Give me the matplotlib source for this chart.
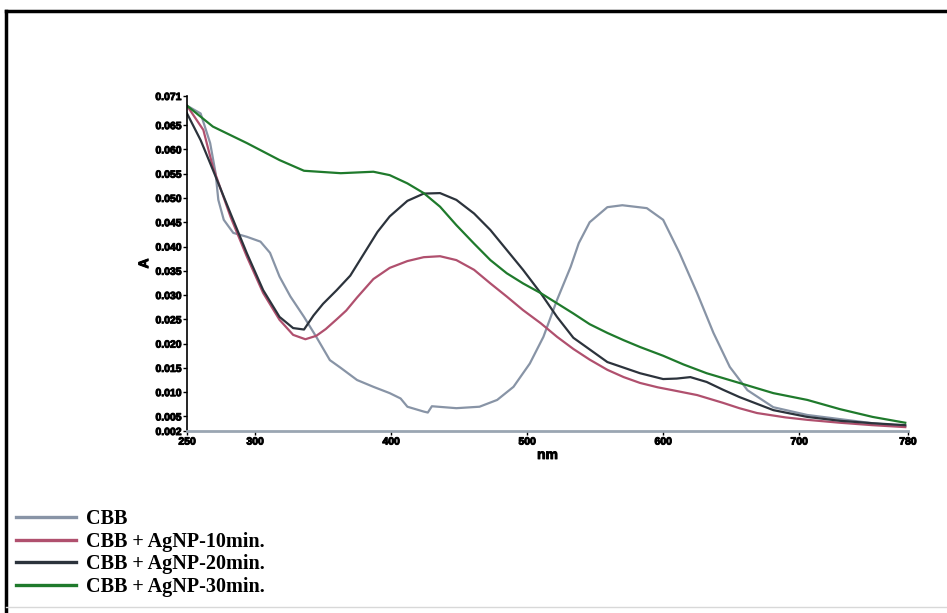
import matplotlib
matplotlib.use("Agg")
import matplotlib.pyplot as plt
import matplotlib.patheffects as pe
from matplotlib.lines import Line2D

# UV-Vis spectra of CBB with AgNP at different times
cbb_nm = [250, 260, 267, 271, 273, 277, 284, 294, 304, 311, 318, 326, 336, 345, 355, 363, 375,
          387, 399, 407, 412, 424, 427, 430, 448, 465, 478, 490, 502, 512, 522, 532, 538, 546,
          559, 570, 588, 600, 612, 625, 637, 649, 662, 681, 706, 754, 778]
cbb_a = [0.0690, 0.0674, 0.0613, 0.0551, 0.0496, 0.0455, 0.0428, 0.0420, 0.0410, 0.0387, 0.0338,
         0.0297, 0.0255, 0.0214, 0.0166, 0.0150, 0.0125, 0.0111, 0.0098, 0.0087, 0.0070, 0.0060,
         0.0058, 0.0071, 0.0067, 0.0070, 0.0084, 0.0111, 0.0159, 0.0214, 0.0290, 0.0358, 0.0407,
         0.0450, 0.0481, 0.0485, 0.0479, 0.0455, 0.0387, 0.0304, 0.0222, 0.0152, 0.0104, 0.0069,
         0.0053, 0.0036, 0.0030]

ag10_nm = [250, 262, 269, 282, 294, 306, 318, 328, 337, 345, 352, 360, 367, 375, 387, 399, 412,
           424, 436, 448, 461, 473, 485, 497, 510, 522, 534, 546, 559, 571, 583, 596, 607, 625,
           644, 656, 669, 690, 706, 730, 754, 778]
ag10_a = [0.0690, 0.0640, 0.0564, 0.0461, 0.0379, 0.0304, 0.0249, 0.0218, 0.0209, 0.0216, 0.0230,
          0.0250, 0.0268, 0.0295, 0.0333, 0.0356, 0.0370, 0.0378, 0.0380, 0.0372, 0.0352, 0.0324,
          0.0297, 0.0269, 0.0242, 0.0214, 0.0189, 0.0167, 0.0146, 0.0131, 0.0119, 0.0110, 0.0104,
          0.0094, 0.0078, 0.0067, 0.0057, 0.0048, 0.0043, 0.0037, 0.0032, 0.0028]

ag20_nm = [250, 260, 269, 282, 294, 306, 318, 328, 336, 343, 350, 360, 370, 380, 390, 399, 412,
           424, 436, 448, 461, 473, 485, 497, 510, 522, 534, 559, 583, 600, 610, 620, 632, 644,
           656, 681, 706, 730, 754, 778]
ag20_a = [0.0674, 0.0619, 0.0558, 0.0468, 0.0386, 0.0310, 0.0255, 0.0232, 0.0229, 0.0258, 0.0282,
          0.0310, 0.0340, 0.0385, 0.0430, 0.0462, 0.0494, 0.0509, 0.0510, 0.0496, 0.0468, 0.0434,
          0.0393, 0.0352, 0.0304, 0.0255, 0.0212, 0.0162, 0.0139, 0.0127, 0.0128, 0.0131, 0.0121,
          0.0105, 0.0090, 0.0063, 0.0049, 0.0041, 0.0036, 0.0032]

ag30_nm = [250, 269, 294, 318, 336, 363, 387, 399, 412, 424, 436, 448, 461, 473, 485, 497, 510,
           522, 534, 546, 559, 571, 583, 600, 615, 632, 656, 681, 706, 730, 754, 778]
ag30_a = [0.0690, 0.0647, 0.0613, 0.0578, 0.0556, 0.0551, 0.0554, 0.0547, 0.0530, 0.0510, 0.0482,
          0.0444, 0.0406, 0.0372, 0.0345, 0.0324, 0.0304, 0.0283, 0.0262, 0.0240, 0.0222, 0.0207,
          0.0193, 0.0175, 0.0157, 0.0139, 0.0119, 0.0098, 0.0084, 0.0065, 0.0049, 0.0037]

labels = ["CBB", "CBB + AgNP-10min.", "CBB + AgNP-20min.", "CBB + AgNP-30min."]
colors = ["#8894a6", "#b0506e", "#2c333c", "#1f7a2c"]

x_ticks = [250, 300, 400, 500, 600, 700, 780]
y_ticks = [0.002, 0.005, 0.010, 0.015, 0.020, 0.025, 0.030, 0.035, 0.040, 0.045,
           0.050, 0.055, 0.060, 0.065, 0.071]

fig = plt.figure(figsize=(9.47, 6.13), dpi=100)
ax = fig.add_axes([0.1975, 0.2969, 0.7613, 0.5465])

series = [(cbb_nm, cbb_a), (ag10_nm, ag10_a), (ag20_nm, ag20_a), (ag30_nm, ag30_a)]
for (nm, a), lab, c in zip(series, labels, colors):
    ax.plot(nm, a, color=c, lw=1.6, label=lab)

ax.set_xlim(250, 780)
ax.set_ylim(0.002, 0.071)
ax.set_xticks(x_ticks)
ax.set_xticklabels([str(t) for t in x_ticks])
ax.set_yticks(y_ticks)
ax.set_yticklabels([f"{t:.3f}" for t in y_ticks])
thick = [pe.withStroke(linewidth=0.7, foreground="black")]
for lbl in ax.get_xticklabels() + ax.get_yticklabels():
    lbl.set_fontweight("bold")
    lbl.set_fontfamily("Liberation Sans")
    lbl.set_path_effects(thick)
ax.tick_params(axis="both", labelsize=7.5, length=3, width=1, pad=1)
ax.spines["top"].set_visible(False)
ax.spines["right"].set_visible(False)
ax.spines["left"].set_linewidth(1.2)
ax.spines["bottom"].set_color("#9aa6b2")
ax.spines["bottom"].set_linewidth(2)
ax.set_xlabel("nm", fontsize=10, fontweight="bold", family="Liberation Sans", labelpad=1,
              path_effects=thick)
ax.set_ylabel("A", fontsize=10, fontweight="bold", family="Liberation Sans", labelpad=3,
              path_effects=thick)

# legend handles drawn thicker than the curves
handles = [Line2D([], [], color=c, lw=2.4) for c in colors]
fig.legend(handles=handles, labels=labels, loc="lower left", bbox_to_anchor=(0.004, 0.006),
           frameon=False, prop={"family": "Liberation Serif", "size": 14.5, "weight": "bold"},
           handlelength=3.0, handletextpad=0.5, labelspacing=0.14, borderaxespad=0.2)

# outer frame lines
fig.add_artist(Line2D([6 / 947, 1.0], [1 - 11 / 613, 1 - 11 / 613], color="black", lw=2.5,
                      transform=fig.transFigure))
fig.add_artist(Line2D([6 / 947, 6 / 947], [1 - 11 / 613, 0.0], color="black", lw=2.5,
                      transform=fig.transFigure))
fig.add_artist(Line2D([6 / 947, 1.0], [1 - 607 / 613, 1 - 607 / 613], color="#d8d8d8", lw=1,
                      transform=fig.transFigure))

fig.savefig("out.png", dpi=100)
